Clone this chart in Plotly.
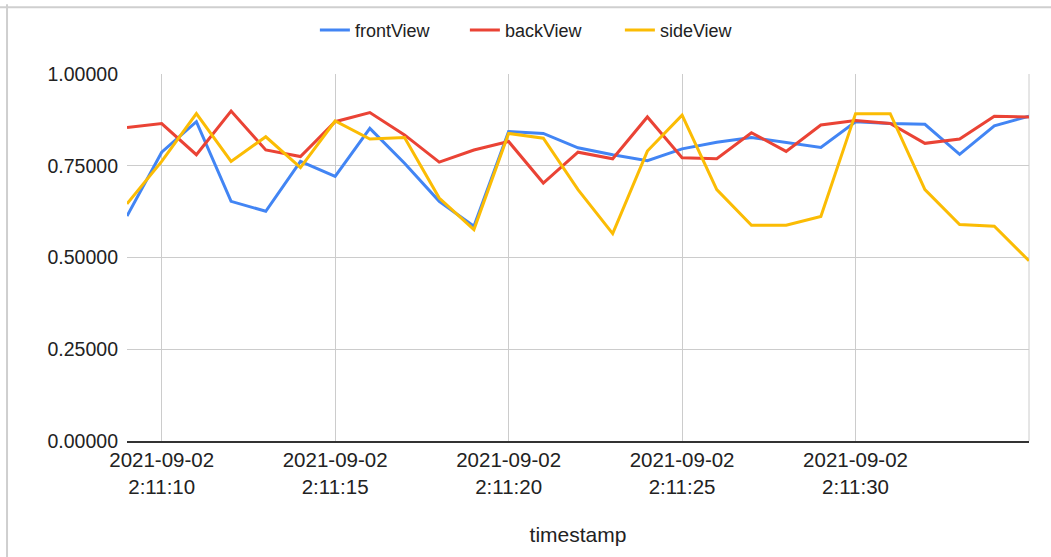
import plotly.graph_objects as go

# Sampling times (one reading per second)
timestamps = [f"2021-09-02 02:11:{s:02d}" for s in range(9, 36)]

front_view = [0.613, 0.787, 0.870, 0.653, 0.626, 0.762, 0.721, 0.852, 0.757,
              0.653, 0.585, 0.843, 0.838, 0.799, 0.780, 0.764, 0.796, 0.814,
              0.827, 0.814, 0.800, 0.870, 0.865, 0.863, 0.781, 0.859, 0.885]

back_view = [0.854, 0.865, 0.780, 0.899, 0.793, 0.775, 0.870, 0.895, 0.834,
             0.760, 0.793, 0.816, 0.703, 0.787, 0.769, 0.883, 0.772, 0.769,
             0.840, 0.789, 0.861, 0.873, 0.865, 0.811, 0.823, 0.885, 0.883]

side_view = [0.646, 0.762, 0.892, 0.762, 0.829, 0.745, 0.872, 0.823, 0.827,
             0.662, 0.576, 0.838, 0.825, 0.685, 0.565, 0.790, 0.888, 0.685,
             0.588, 0.588, 0.612, 0.892, 0.892, 0.685, 0.590, 0.585, 0.491]

tick_times = ["2021-09-02 02:11:10", "2021-09-02 02:11:15", "2021-09-02 02:11:20",
              "2021-09-02 02:11:25", "2021-09-02 02:11:30"]
tick_labels = ["2021-09-02<br>2:11:10", "2021-09-02<br>2:11:15", "2021-09-02<br>2:11:20",
               "2021-09-02<br>2:11:25", "2021-09-02<br>2:11:30"]
y_ticks = [0, 0.25, 0.5, 0.75, 1.0]

FONT = "Liberation Sans, Arial, sans-serif"

# name, values, colour, legend entry width
series = [
    ("frontView", front_view, "#4285F4", 105),
    ("backView", back_view, "#EA4335", 110),
    ("sideView", side_view, "#FBBC04", 100),
]

fig = go.Figure()
for name, values, color, lw in series:
    fig.add_trace(go.Scatter(
        x=timestamps, y=values, name=name, mode="lines",
        line=dict(color=color, width=3), legendwidth=lw,
    ))

fig.update_layout(
    width=1051, height=557,
    margin=dict(l=127, r=22, t=72, b=116),
    paper_bgcolor="white", plot_bgcolor="white",
    font=dict(family=FONT, size=18, color="#222222"),
    showlegend=True,
    legend=dict(
        orientation="h", x=0.2083, xanchor="left", y=1.119, yanchor="middle",
        font=dict(size=18, color="#222222"), itemwidth=30,
    ),
    xaxis=dict(
        type="date",
        range=["2021-09-02 02:11:09", "2021-09-02 02:11:35"],
        tickvals=tick_times, ticktext=tick_labels,
        tickfont=dict(size=20.5),
        showgrid=True, gridcolor="#cccccc", gridwidth=1,
        showline=True, linecolor="#333333", linewidth=1.5,
        zeroline=False, ticks="",
        title=dict(text="timestamp", font=dict(size=21), standoff=30),
    ),
    yaxis=dict(
        range=[0, 1.0],
        tickvals=y_ticks, tickformat=".5f",
        tickfont=dict(size=19.5),
        showgrid=True, gridcolor="#cccccc", gridwidth=1,
        zeroline=False, showline=False, ticks="",
        ticklabelstandoff=8,
    ),
    shapes=[
        # right edge of the plotting area
        dict(type="line", xref="paper", yref="paper", x0=1, x1=1, y0=0, y1=1,
             line=dict(color="#cccccc", width=1), layer="below"),
        # outer frame (top and left)
        dict(type="line", xref="paper", yref="paper", x0=-0.15, x1=1.03,
             y0=1.1816, y1=1.1816, line=dict(color="#cfcfcf", width=2)),
        dict(type="line", xref="paper", yref="paper", x0=-0.133, x1=-0.133,
             y0=-0.35, y1=1.19, line=dict(color="#cfcfcf", width=2)),
    ],
)

fig.write_html("out.html")
